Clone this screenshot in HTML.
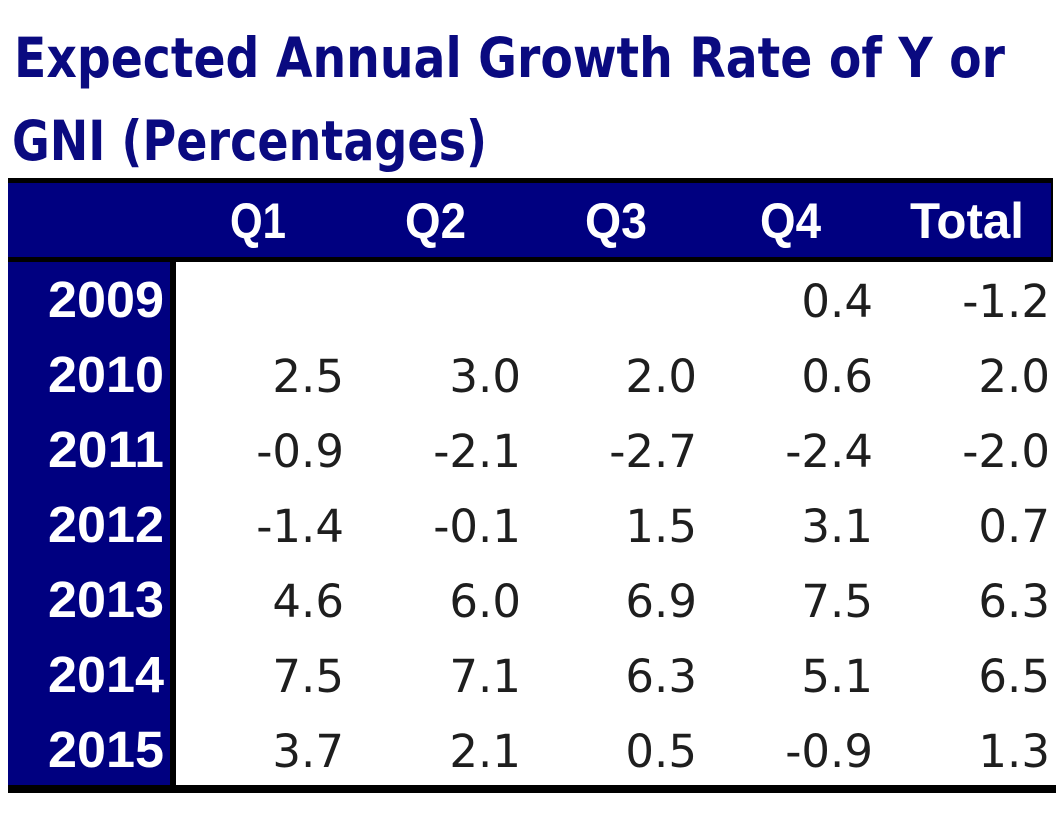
<!DOCTYPE html>
<html>
<head>
<meta charset="utf-8">
<style>
  html, body { margin:0; padding:0; background:#ffffff; }
  svg { display:block; }
</style>
</head>
<body>
<svg width="1056" height="816" viewBox="0 0 1056 816" xmlns="http://www.w3.org/2000/svg">
  <rect x="0" y="0" width="1056" height="816" fill="#ffffff"/>

  <!-- Title -->
  <g font-family="'DejaVu Sans', 'Liberation Sans', sans-serif" font-weight="bold" font-size="55" fill="#0a0a80">
    <text x="14" y="77" textLength="991" lengthAdjust="spacingAndGlyphs">Expected Annual Growth Rate of Y or</text>
    <text x="12" y="160" textLength="475" lengthAdjust="spacingAndGlyphs">GNI (Percentages)</text>
  </g>

  <!-- Header band -->
  <rect x="8" y="178" width="1045" height="84" fill="#000000"/>
  <rect x="8" y="183" width="1043" height="74" fill="#000080"/>

  <!-- Left column -->
  <rect x="8" y="262" width="162" height="523" fill="#000080"/>
  <rect x="170" y="262" width="6" height="523" fill="#000000"/>

  <!-- Bottom rule -->
  <rect x="8" y="785" width="1048" height="8" fill="#000000"/>

  <!-- Header labels -->
  <g font-family="'Liberation Sans', sans-serif" font-weight="bold" font-size="50" fill="#ffffff">
    <text x="230" y="238" textLength="56" lengthAdjust="spacingAndGlyphs">Q1</text>
    <text x="405" y="238" textLength="61" lengthAdjust="spacingAndGlyphs">Q2</text>
    <text x="585" y="238" textLength="62" lengthAdjust="spacingAndGlyphs">Q3</text>
    <text x="760" y="238" textLength="61" lengthAdjust="spacingAndGlyphs">Q4</text>
    <text x="910" y="238" textLength="114" lengthAdjust="spacingAndGlyphs">Total</text>
  </g>

  <!-- Row labels -->
  <g font-family="'Liberation Sans', sans-serif" font-weight="bold" font-size="51" fill="#ffffff">
    <text x="48" y="317" textLength="116" lengthAdjust="spacingAndGlyphs">2009</text>
    <text x="48" y="392" textLength="116" lengthAdjust="spacingAndGlyphs">2010</text>
    <text x="48" y="467" textLength="116" lengthAdjust="spacingAndGlyphs">2011</text>
    <text x="48" y="542" textLength="116" lengthAdjust="spacingAndGlyphs">2012</text>
    <text x="48" y="617" textLength="116" lengthAdjust="spacingAndGlyphs">2013</text>
    <text x="48" y="692" textLength="116" lengthAdjust="spacingAndGlyphs">2014</text>
    <text x="48" y="767" textLength="116" lengthAdjust="spacingAndGlyphs">2015</text>
  </g>

  <!-- Data -->
  <g font-family="'DejaVu Sans', 'Liberation Sans', sans-serif" font-size="45" fill="#1e1e1e" text-anchor="end">
    <!-- 2009 -->
    <text x="873" y="317">0.4</text>
    <text x="1050" y="317">-1.2</text>
    <!-- 2010 -->
    <text x="344" y="392">2.5</text>
    <text x="521" y="392">3.0</text>
    <text x="697" y="392">2.0</text>
    <text x="873" y="392">0.6</text>
    <text x="1050" y="392">2.0</text>
    <!-- 2011 -->
    <text x="344" y="467">-0.9</text>
    <text x="521" y="467">-2.1</text>
    <text x="697" y="467">-2.7</text>
    <text x="873" y="467">-2.4</text>
    <text x="1050" y="467">-2.0</text>
    <!-- 2012 -->
    <text x="344" y="542">-1.4</text>
    <text x="521" y="542">-0.1</text>
    <text x="697" y="542">1.5</text>
    <text x="873" y="542">3.1</text>
    <text x="1050" y="542">0.7</text>
    <!-- 2013 -->
    <text x="344" y="617">4.6</text>
    <text x="521" y="617">6.0</text>
    <text x="697" y="617">6.9</text>
    <text x="873" y="617">7.5</text>
    <text x="1050" y="617">6.3</text>
    <!-- 2014 -->
    <text x="344" y="692">7.5</text>
    <text x="521" y="692">7.1</text>
    <text x="697" y="692">6.3</text>
    <text x="873" y="692">5.1</text>
    <text x="1050" y="692">6.5</text>
    <!-- 2015 -->
    <text x="344" y="767">3.7</text>
    <text x="521" y="767">2.1</text>
    <text x="697" y="767">0.5</text>
    <text x="873" y="767">-0.9</text>
    <text x="1050" y="767">1.3</text>
  </g>
</svg>
</body>
</html>
